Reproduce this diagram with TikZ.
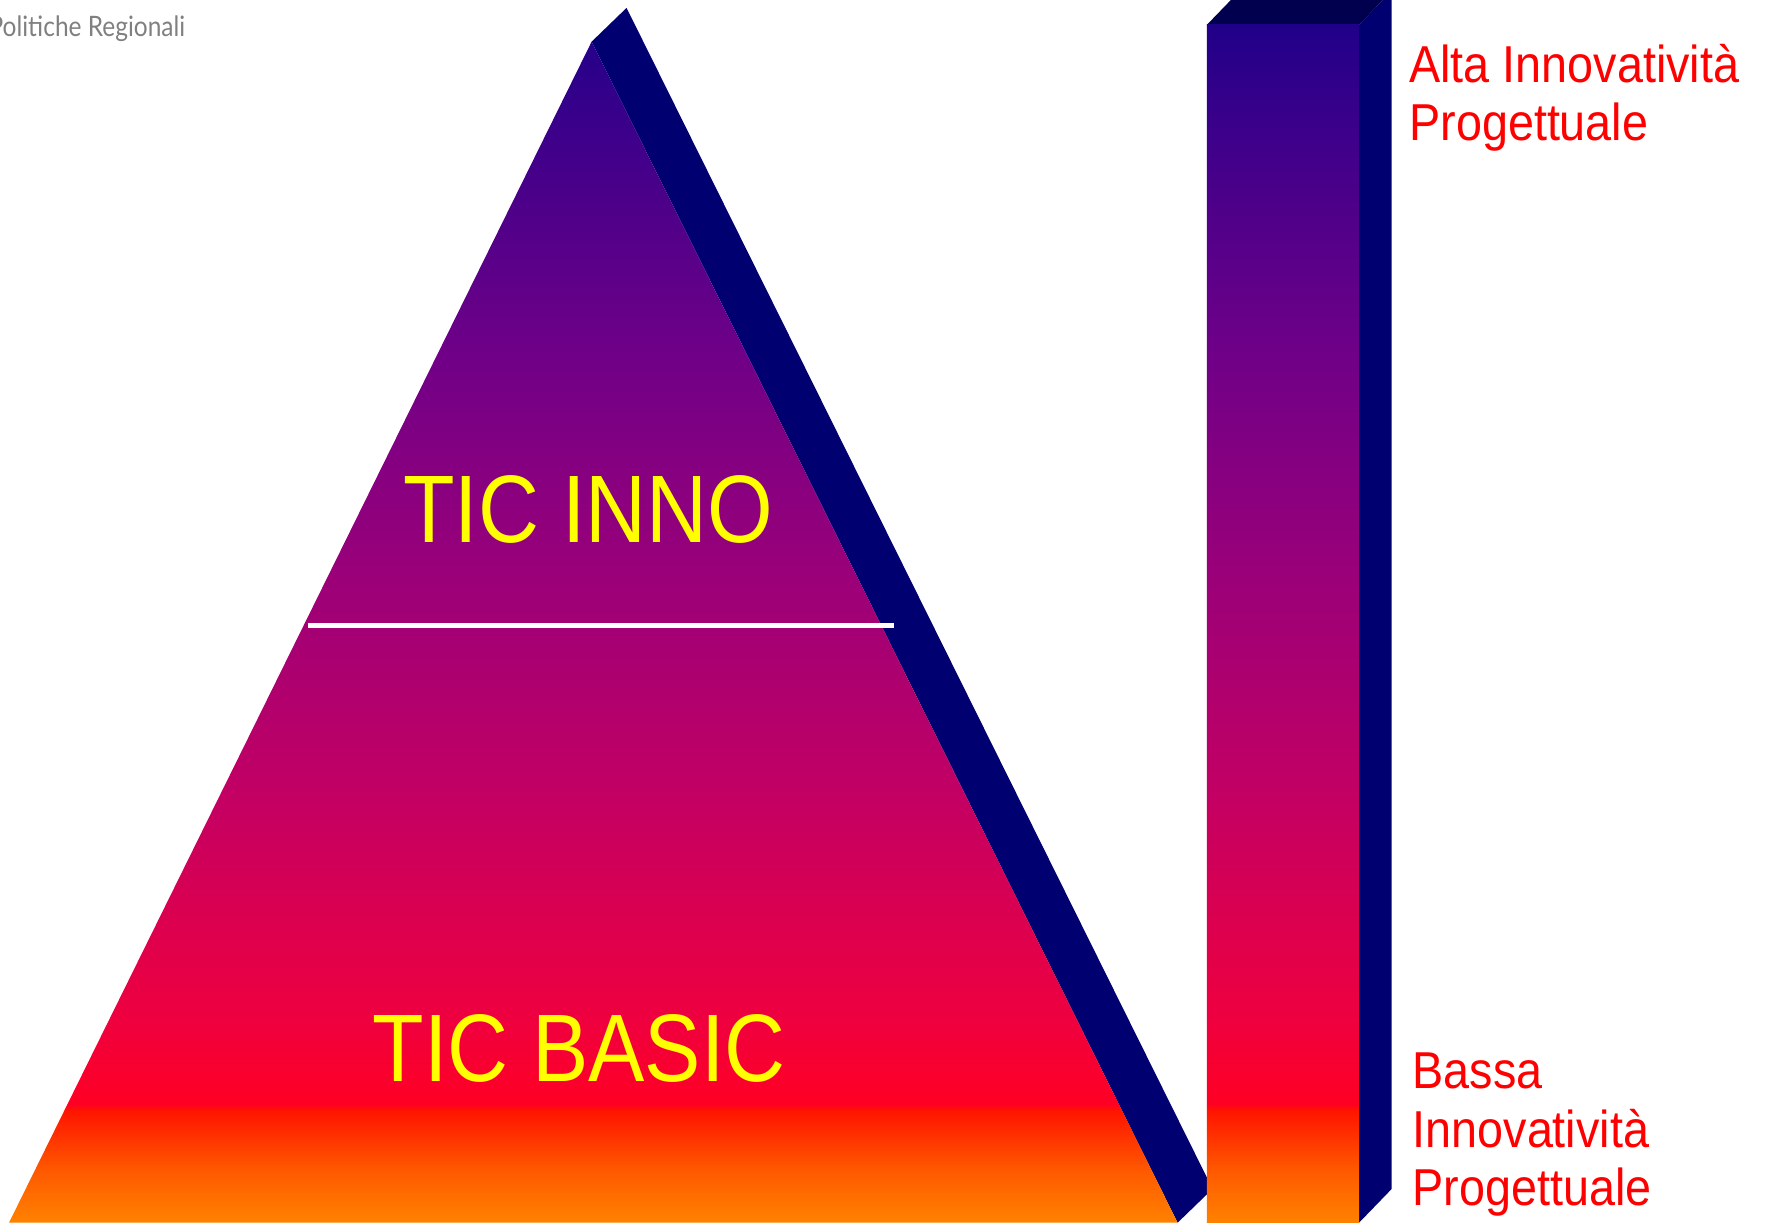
\documentclass[tikz,border=0pt]{standalone}
\usepackage{fontspec}
\setmainfont{Liberation Sans}
\newfontfamily\logofont{Lato}
\definecolor{ticOrange}{HTML}{FF8200}
\definecolor{ticOrangeRed}{HTML}{FF5A00}
\definecolor{ticRedO}{HTML}{FF1400}
\definecolor{ticRed}{HTML}{FF0024}
\definecolor{ticCrimson}{HTML}{EE0040}
\definecolor{ticMagenta}{HTML}{C20064}
\definecolor{ticPlum}{HTML}{98007A}
\definecolor{ticViolet}{HTML}{6C0088}
\definecolor{ticIndigo}{HTML}{38008A}
\definecolor{ticDeep}{HTML}{1A0088}
\definecolor{ticNavy}{HTML}{000070}
\definecolor{ticNight}{HTML}{00004F}
\definecolor{ticYellow}{HTML}{FFFF00}
\pgfdeclareverticalshading{ticshade}{100bp}{%
  color(0bp)=(ticOrange); color(25bp)=(ticOrange); color(27.1bp)=(ticOrangeRed);
  color(29.6bp)=(ticRedO); color(29.85bp)=(ticRed); color(33.5bp)=(ticCrimson);
  color(42.7bp)=(ticMagenta); color(52bp)=(ticPlum); color(61.2bp)=(ticViolet);
  color(70.4bp)=(ticIndigo); color(75bp)=(ticDeep); color(100bp)=(ticDeep)}
\begin{document}
\begin{tikzpicture}[x=0.01cm, y=-0.01cm,
    levelname/.style={text=ticYellow, font=\fontsize{24.2}{28}\selectfont, xscale=0.88, inner sep=0pt},
    scalelabel/.style={text=red, font=\fontsize{13.1}{14.8}\selectfont, xscale=0.9, align=left, inner sep=0pt}]
    \useasboundingbox (0,0) rectangle (1568,1085);
    % pyramid
    \fill[ticNavy] (525,37) -- (556,7) -- (1076,1055) -- (1045,1085) -- cycle;
    \begin{scope}
        \clip (525,37) -- (1045,1085) -- (8,1085) -- cycle;
        \shade[shading=ticshade] (0,0) rectangle (1568,1085);
    \end{scope}
    \draw[white, line width=1.4pt] (273,555) -- (793,555);
    \node[levelname, anchor=base] (inno) at (522,481) {TIC INNO};
    \node[levelname, anchor=base] (basic) at (514,960) {TIC BASIC};
    % scale bar
    \fill[ticNight] (1071,22) -- (1100,-8) -- (1235,-8) -- (1206,22) -- cycle;
    \fill[ticNavy] (1206,22) -- (1235,-8) -- (1235,1055) -- (1206,1085) -- cycle;
    \begin{scope}
        \clip (1071,22) rectangle (1206,1085);
        \shade[shading=ticshade] (0,0) rectangle (1568,1085);
    \end{scope}
    \node[scalelabel, anchor=base west] (alta) at (1250,125) {Alta Innovatività\\Progettuale};
    \node[scalelabel, anchor=base west] (bassa) at (1253,1070) {Bassa\\Innovatività\\Progettuale};
    \node[text=gray, font=\logofont\fontsize{7.1}{8}\selectfont, xscale=0.87, anchor=base east, inner sep=0pt] (logo) at (165,32) {Politiche Regionali};
\end{tikzpicture}
\end{document}
